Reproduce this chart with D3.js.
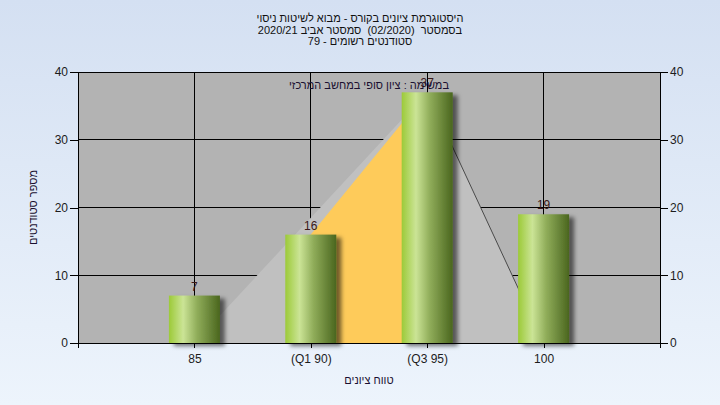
<!DOCTYPE html>
<html><head><meta charset="utf-8">
<script src="https://cdn.jsdelivr.net/npm/d3@7"></script>
<style>
html,body{margin:0;padding:0;}
svg{display:block;font-family:"Liberation Sans","DejaVu Sans",Arial,sans-serif;}
.pre{white-space:pre;}
</style></head>
<body><svg id="c" width="720" height="405"></svg>
<script>
// ---- data ----
const categories = ["85", "(Q1 90)", "(Q3 95)", "100"];
const counts = [7, 16, 37, 19];
const triangleArea = [0, 18.5, 37, 0];     // light grey background area
const quartileArea = [null, 16, 37, null]; // orange interquartile area
const dropLine = [null, null, 37, 0];       // thin dark line
const yTicks = [0, 10, 20, 30, 40];
const titleLines = [
  "היסטוגרמת ציונים בקורס - מבוא לשיטות ניסוי",
  "בסמסטר  (02/2020)  סמסטר אביב 2020/21",
  "סטודנטים רשומים - 79"
];
const subTitle = "במשימה : ציון סופי במחשב המרכזי";
const xTitle = "טווח ציונים";
const yTitle = "מספר סטודנטים";

// ---- layout ----
const W = 720, H = 405;
const L = 78, R = 660, T = 72, B = 343;
const svg = d3.select("#c");
const defs = svg.append("defs");

const bg = defs.append("linearGradient").attr("id","bg").attr("x1",0).attr("y1",0).attr("x2",0).attr("y2",1);
bg.append("stop").attr("offset","0%").attr("stop-color","#d4e0f2");
bg.append("stop").attr("offset","100%").attr("stop-color","#edf4fc");

const bar = defs.append("linearGradient").attr("id","bar").attr("x1",0).attr("y1",0).attr("x2",1).attr("y2",0);
[["0%","#9cca38"],["28%","#cbe496"],["55%","#90ad5a"],["100%","#4a661e"]].forEach(s=>
  bar.append("stop").attr("offset",s[0]).attr("stop-color",s[1]));

const sh = defs.append("filter").attr("id","sh").attr("x","-20%").attr("y","-20%").attr("width","160%").attr("height","140%");
sh.append("feDropShadow").attr("dx",5).attr("dy",3).attr("stdDeviation",2.2)
  .attr("flood-color","#000").attr("flood-opacity",0.55);

svg.append("rect").attr("width",W).attr("height",H).attr("fill","url(#bg)");

const x = d3.scaleLinear().domain([0, categories.length + 1]).range([L, R]);
const y = d3.scaleLinear().domain([0, 40]).range([B, T]);
const bw = 51;

// plot background
svg.append("rect").attr("x",L).attr("y",T).attr("width",R-L).attr("height",B-T).attr("fill","#b3b3b3");

// gridlines
const grid = svg.append("g").attr("stroke","#000").attr("stroke-width",1).attr("shape-rendering","crispEdges");
yTicks.forEach(t=>grid.append("line").attr("x1",L).attr("x2",R).attr("y1",y(t)).attr("y2",y(t)));
categories.forEach((c,i)=>grid.append("line").attr("x1",x(i+1)).attr("x2",x(i+1)).attr("y1",T).attr("y2",B));

// areas
const area = d3.area().defined(d=>d!=null).x((d,i)=>x(i+1)).y0(y(0)).y1(d=>y(d));
svg.append("path").datum(triangleArea).attr("d",area).attr("fill","#c0c0c0");
svg.append("path").datum(quartileArea).attr("d",area).attr("fill","#fecb5a");
svg.append("path").datum(dropLine)
  .attr("d",d3.line().defined(d=>d!=null).x((d,i)=>x(i+1)).y(d=>y(d)))
  .attr("fill","none").attr("stroke","#4a4a4a").attr("stroke-width",1);

// bars
svg.append("g").selectAll("rect").data(counts).join("rect")
  .attr("x",(d,i)=>x(i+1)-bw/2).attr("width",bw)
  .attr("y",d=>y(d)).attr("height",d=>y(0)-y(d))
  .attr("fill","url(#bar)").attr("filter","url(#sh)");

// frame
svg.append("g").attr("stroke","#000").attr("stroke-width",1).attr("shape-rendering","crispEdges")
  .call(g=>{
    g.append("line").attr("x1",L).attr("x2",L).attr("y1",T).attr("y2",B);
    g.append("line").attr("x1",R).attr("x2",R).attr("y1",T).attr("y2",B);
    g.append("line").attr("x1",L).attr("x2",R).attr("y1",B).attr("y2",B);
    g.append("line").attr("x1",L).attr("x2",R).attr("y1",T).attr("y2",T);
  });

// value labels
svg.append("g").selectAll("text").data(counts).join("text")
  .attr("x",(d,i)=>x(i+1)).attr("y",d=>y(d)-5)
  .attr("text-anchor","middle").attr("font-size",12).attr("fill","#3a1818")
  .text(d=>d);

// axes
const yl = d3.axisLeft(y).tickValues(yTicks).tickSize(8).tickPadding(2);
const yr = d3.axisRight(y).tickValues(yTicks).tickSize(8).tickPadding(2);
const xb = d3.axisBottom(x).tickValues(d3.range(0, categories.length + 2)).tickSize(5).tickPadding(6)
  .tickFormat(i=> (i>=1 && i<=categories.length) ? categories[i-1] : "");
function style(g){
  g.select(".domain").remove();
  g.selectAll("line").attr("stroke","#000").attr("shape-rendering","crispEdges");
  g.selectAll("text").attr("font-size",12).attr("fill","#1c1c1c").attr("font-family",null);
}
svg.append("g").attr("transform",`translate(${L},0)`).call(yl).call(style);
svg.append("g").attr("transform",`translate(${R},0)`).call(yr).call(style);
svg.append("g").attr("transform",`translate(0,${B})`).call(xb).call(style);

// titles
svg.append("g").selectAll("text").data(titleLines).join("text")
  .attr("class","pre")
  .attr("x",360).attr("y",(d,i)=>22+i*11.5)
  .attr("direction","rtl").attr("text-anchor","middle")
  .attr("font-size",11).attr("fill","#111").text(d=>d);

svg.append("text").attr("x",(L+R)/2).attr("y",89).attr("direction","rtl").attr("text-anchor","middle")
  .attr("font-size",11).attr("fill","#1a1030").text(subTitle);

svg.append("text").attr("x",(L+R)/2).attr("y",384).attr("direction","rtl").attr("text-anchor","middle")
  .attr("font-size",11).attr("fill","#1a1030").text(xTitle);

svg.append("text").attr("transform",`translate(37,${(T+B)/2}) rotate(-90)`)
  .attr("direction","rtl").attr("text-anchor","middle")
  .attr("font-size",11).attr("fill","#1a1030").text(yTitle);
</script></body></html>
